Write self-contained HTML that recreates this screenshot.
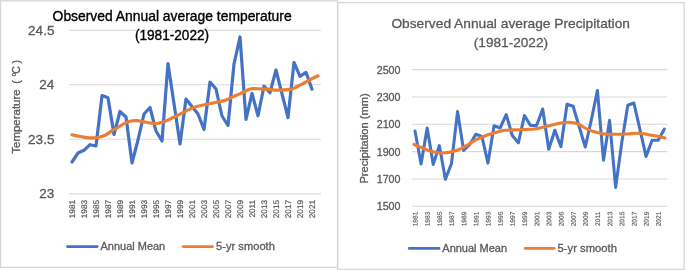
<!DOCTYPE html><html><head><meta charset="utf-8"><style>html,body{margin:0;padding:0;background:#fff;}svg{display:block;will-change:transform;}text{font-family:"Liberation Sans",sans-serif;}.g{stroke:#595959;stroke-width:0.3px;}.k{stroke:#000;stroke-width:0.35px;}.gt{stroke:#595959;stroke-width:0.35px;}</style></head><body>
<svg width="685" height="270" viewBox="0 0 685 270">
<rect width="685" height="270" fill="#fff"/>
<g fill="none" stroke="#d6d6d6" stroke-width="1.3">
<rect x="0.6" y="0.8" width="337" height="266.6"/>
<rect x="337.6" y="2.6" width="346.6" height="266.8"/>
</g>
<line x1="69" y1="30.2" x2="321" y2="30.2" stroke="#d9d9d9" stroke-width="1.1"/>
<line x1="69" y1="84.7" x2="321" y2="84.7" stroke="#d9d9d9" stroke-width="1.1"/>
<line x1="69" y1="139.3" x2="321" y2="139.3" stroke="#d9d9d9" stroke-width="1.1"/>
<line x1="69" y1="193.9" x2="321" y2="193.9" stroke="#d9d9d9" stroke-width="1.1"/>
<text x="54.4" y="34.7" font-size="13.5" fill="#595959" class="g" text-anchor="end">24.5</text>
<text x="54.4" y="89.2" font-size="13.5" fill="#595959" class="g" text-anchor="end">24</text>
<text x="54.4" y="143.8" font-size="13.5" fill="#595959" class="g" text-anchor="end">23.5</text>
<text x="54.4" y="198.4" font-size="13.5" fill="#595959" class="g" text-anchor="end">23</text>
<text transform="translate(75.00,200) rotate(-89.9)" font-size="8.2" fill="#595959" stroke="#595959" stroke-width="0.2" text-anchor="end">1981</text>
<text transform="translate(87.00,200) rotate(-89.9)" font-size="8.2" fill="#595959" stroke="#595959" stroke-width="0.2" text-anchor="end">1983</text>
<text transform="translate(99.00,200) rotate(-89.9)" font-size="8.2" fill="#595959" stroke="#595959" stroke-width="0.2" text-anchor="end">1985</text>
<text transform="translate(111.00,200) rotate(-89.9)" font-size="8.2" fill="#595959" stroke="#595959" stroke-width="0.2" text-anchor="end">1987</text>
<text transform="translate(123.00,200) rotate(-89.9)" font-size="8.2" fill="#595959" stroke="#595959" stroke-width="0.2" text-anchor="end">1989</text>
<text transform="translate(135.00,200) rotate(-89.9)" font-size="8.2" fill="#595959" stroke="#595959" stroke-width="0.2" text-anchor="end">1991</text>
<text transform="translate(147.00,200) rotate(-89.9)" font-size="8.2" fill="#595959" stroke="#595959" stroke-width="0.2" text-anchor="end">1993</text>
<text transform="translate(159.00,200) rotate(-89.9)" font-size="8.2" fill="#595959" stroke="#595959" stroke-width="0.2" text-anchor="end">1995</text>
<text transform="translate(171.00,200) rotate(-89.9)" font-size="8.2" fill="#595959" stroke="#595959" stroke-width="0.2" text-anchor="end">1997</text>
<text transform="translate(183.00,200) rotate(-89.9)" font-size="8.2" fill="#595959" stroke="#595959" stroke-width="0.2" text-anchor="end">1999</text>
<text transform="translate(195.00,200) rotate(-89.9)" font-size="8.2" fill="#595959" stroke="#595959" stroke-width="0.2" text-anchor="end">2001</text>
<text transform="translate(207.00,200) rotate(-89.9)" font-size="8.2" fill="#595959" stroke="#595959" stroke-width="0.2" text-anchor="end">2003</text>
<text transform="translate(219.00,200) rotate(-89.9)" font-size="8.2" fill="#595959" stroke="#595959" stroke-width="0.2" text-anchor="end">2005</text>
<text transform="translate(231.00,200) rotate(-89.9)" font-size="8.2" fill="#595959" stroke="#595959" stroke-width="0.2" text-anchor="end">2007</text>
<text transform="translate(243.00,200) rotate(-89.9)" font-size="8.2" fill="#595959" stroke="#595959" stroke-width="0.2" text-anchor="end">2009</text>
<text transform="translate(255.00,200) rotate(-89.9)" font-size="8.2" fill="#595959" stroke="#595959" stroke-width="0.2" text-anchor="end">2011</text>
<text transform="translate(267.00,200) rotate(-89.9)" font-size="8.2" fill="#595959" stroke="#595959" stroke-width="0.2" text-anchor="end">2013</text>
<text transform="translate(279.00,200) rotate(-89.9)" font-size="8.2" fill="#595959" stroke="#595959" stroke-width="0.2" text-anchor="end">2015</text>
<text transform="translate(291.00,200) rotate(-89.9)" font-size="8.2" fill="#595959" stroke="#595959" stroke-width="0.2" text-anchor="end">2017</text>
<text transform="translate(303.00,200) rotate(-89.9)" font-size="8.2" fill="#595959" stroke="#595959" stroke-width="0.2" text-anchor="end">2019</text>
<text transform="translate(315.00,200) rotate(-89.9)" font-size="8.2" fill="#595959" stroke="#595959" stroke-width="0.2" text-anchor="end">2021</text>
<text transform="translate(19.9,153.7) rotate(-90)" font-size="10.6" fill="#595959" class="g" textLength="64.4" lengthAdjust="spacingAndGlyphs">Temperature</text>
<text transform="translate(19.9,82.0) rotate(-90)" font-size="10.6" fill="#595959" class="g" text-anchor="middle">(</text>
<text transform="translate(19.9,74.6) rotate(-90)" font-size="10.6" fill="#595959" class="g" text-anchor="middle">°</text>
<text transform="translate(19.9,70.0) rotate(-90)" font-size="10.6" fill="#595959" class="g" text-anchor="middle">C</text>
<text transform="translate(19.9,61.7) rotate(-90)" font-size="10.6" fill="#595959" class="g" text-anchor="middle">)</text>
<text x="172.1" y="20.8" font-size="14" fill="#000" class="k" text-anchor="middle" textLength="239" lengthAdjust="spacingAndGlyphs">Observed Annual average temperature</text>
<text x="172" y="39.5" font-size="14" fill="#000" class="k" text-anchor="middle" textLength="74.2" lengthAdjust="spacingAndGlyphs">(1981-2022)</text>
<polyline points="72.00,162.00 78.00,153.00 84.00,150.30 90.00,144.70 96.00,146.00 102.00,95.60 108.00,97.70 114.00,134.50 120.00,111.50 126.00,117.00 132.00,163.00 138.00,140.00 144.00,114.00 150.00,107.50 156.00,131.00 162.00,141.00 168.00,63.70 174.00,103.80 180.00,144.00 186.00,99.00 192.00,106.50 198.00,114.00 204.00,129.50 210.00,82.00 216.00,89.00 222.00,116.00 228.00,125.50 234.00,64.00 240.00,37.00 246.00,119.50 252.00,93.40 258.00,115.80 264.00,86.20 270.00,92.70 276.00,70.00 282.00,93.80 288.00,117.50 294.00,62.50 300.00,76.40 306.00,72.40 312.00,89.30" fill="none" stroke="#4472c4" stroke-width="3.2" stroke-linejoin="round" stroke-linecap="round"/>
<path d="M72.00,134.80 C73.17,135.05 76.83,135.88 79.00,136.30 C81.17,136.72 82.83,137.03 85.00,137.30 C87.17,137.57 89.83,137.87 92.00,137.90 C94.17,137.93 95.83,137.93 98.00,137.50 C100.17,137.07 102.83,136.32 105.00,135.30 C107.17,134.28 108.83,132.70 111.00,131.40 C113.17,130.10 115.83,128.80 118.00,127.50 C120.17,126.20 121.83,124.68 124.00,123.60 C126.17,122.52 128.92,121.48 131.00,121.00 C133.08,120.52 134.50,120.60 136.50,120.70 C138.50,120.80 140.85,121.23 143.00,121.60 C145.15,121.97 147.23,122.58 149.40,122.90 C151.57,123.22 153.83,123.62 156.00,123.50 C158.17,123.38 160.23,122.85 162.40,122.20 C164.57,121.55 166.83,120.57 169.00,119.60 C171.17,118.63 173.23,117.48 175.40,116.40 C177.57,115.32 179.85,114.18 182.00,113.10 C184.15,112.02 186.13,110.92 188.30,109.90 C190.47,108.88 191.72,107.98 195.00,107.00 C198.28,106.02 203.67,104.93 208.00,104.00 C212.33,103.07 217.77,102.17 221.00,101.40 C224.23,100.63 225.23,100.27 227.40,99.40 C229.57,98.53 231.83,97.17 234.00,96.20 C236.17,95.23 238.23,94.57 240.40,93.60 C242.57,92.63 245.23,91.20 247.00,90.40 C248.77,89.60 248.83,89.07 251.00,88.80 C253.17,88.53 257.17,88.73 260.00,88.80 C262.83,88.87 265.60,88.98 268.00,89.20 C270.40,89.42 272.23,89.95 274.40,90.10 C276.57,90.25 278.40,90.22 281.00,90.10 C283.60,89.98 287.83,89.73 290.00,89.40 C292.17,89.07 292.27,88.85 294.00,88.10 C295.73,87.35 298.23,86.02 300.40,84.90 C302.57,83.78 304.85,82.55 307.00,81.40 C309.15,80.25 311.47,78.93 313.30,78.00 C315.13,77.07 317.22,76.17 318.00,75.80" fill="none" stroke="#ed7d31" stroke-width="3.2" stroke-linejoin="round" stroke-linecap="round"/>
<line x1="67.4" y1="246.6" x2="97.2" y2="246.6" stroke="#4472c4" stroke-width="2.6" stroke-linecap="round"/>
<text x="100.5" y="250.3" font-size="11" fill="#595959" class="g" textLength="64.7" lengthAdjust="spacingAndGlyphs">Annual Mean</text>
<line x1="183" y1="246.6" x2="212.6" y2="246.6" stroke="#ed7d31" stroke-width="2.6" stroke-linecap="round"/>
<text x="216" y="250.3" font-size="11" fill="#595959" class="g" textLength="58.9" lengthAdjust="spacingAndGlyphs">5-yr smooth</text>
<line x1="412" y1="69.60" x2="667.3" y2="69.60" stroke="#d9d9d9" stroke-width="1.1"/>
<line x1="412" y1="96.94" x2="667.3" y2="96.94" stroke="#d9d9d9" stroke-width="1.1"/>
<line x1="412" y1="124.28" x2="667.3" y2="124.28" stroke="#d9d9d9" stroke-width="1.1"/>
<line x1="412" y1="151.62" x2="667.3" y2="151.62" stroke="#d9d9d9" stroke-width="1.1"/>
<line x1="412" y1="178.96" x2="667.3" y2="178.96" stroke="#d9d9d9" stroke-width="1.1"/>
<line x1="412" y1="206.30" x2="667.3" y2="206.30" stroke="#d9d9d9" stroke-width="1.1"/>
<text x="400.5" y="73.5" font-size="10.7" fill="#595959" class="g" text-anchor="end">2500</text>
<text x="400.5" y="100.8" font-size="10.7" fill="#595959" class="g" text-anchor="end">2300</text>
<text x="400.5" y="128.2" font-size="10.7" fill="#595959" class="g" text-anchor="end">2100</text>
<text x="400.5" y="155.5" font-size="10.7" fill="#595959" class="g" text-anchor="end">1900</text>
<text x="400.5" y="182.9" font-size="10.7" fill="#595959" class="g" text-anchor="end">1700</text>
<text x="400.5" y="210.2" font-size="10.7" fill="#595959" class="g" text-anchor="end">1500</text>
<text transform="translate(417.60,211.7) rotate(-89.9)" font-size="6.6" fill="#595959" stroke="#595959" stroke-width="0.15" text-anchor="end">1981</text>
<text transform="translate(429.76,211.7) rotate(-89.9)" font-size="6.6" fill="#595959" stroke="#595959" stroke-width="0.15" text-anchor="end">1983</text>
<text transform="translate(441.92,211.7) rotate(-89.9)" font-size="6.6" fill="#595959" stroke="#595959" stroke-width="0.15" text-anchor="end">1985</text>
<text transform="translate(454.08,211.7) rotate(-89.9)" font-size="6.6" fill="#595959" stroke="#595959" stroke-width="0.15" text-anchor="end">1987</text>
<text transform="translate(466.24,211.7) rotate(-89.9)" font-size="6.6" fill="#595959" stroke="#595959" stroke-width="0.15" text-anchor="end">1989</text>
<text transform="translate(478.40,211.7) rotate(-89.9)" font-size="6.6" fill="#595959" stroke="#595959" stroke-width="0.15" text-anchor="end">1991</text>
<text transform="translate(490.56,211.7) rotate(-89.9)" font-size="6.6" fill="#595959" stroke="#595959" stroke-width="0.15" text-anchor="end">1993</text>
<text transform="translate(502.72,211.7) rotate(-89.9)" font-size="6.6" fill="#595959" stroke="#595959" stroke-width="0.15" text-anchor="end">1995</text>
<text transform="translate(514.88,211.7) rotate(-89.9)" font-size="6.6" fill="#595959" stroke="#595959" stroke-width="0.15" text-anchor="end">1997</text>
<text transform="translate(527.04,211.7) rotate(-89.9)" font-size="6.6" fill="#595959" stroke="#595959" stroke-width="0.15" text-anchor="end">1999</text>
<text transform="translate(539.20,211.7) rotate(-89.9)" font-size="6.6" fill="#595959" stroke="#595959" stroke-width="0.15" text-anchor="end">2001</text>
<text transform="translate(551.36,211.7) rotate(-89.9)" font-size="6.6" fill="#595959" stroke="#595959" stroke-width="0.15" text-anchor="end">2003</text>
<text transform="translate(563.52,211.7) rotate(-89.9)" font-size="6.6" fill="#595959" stroke="#595959" stroke-width="0.15" text-anchor="end">2005</text>
<text transform="translate(575.68,211.7) rotate(-89.9)" font-size="6.6" fill="#595959" stroke="#595959" stroke-width="0.15" text-anchor="end">2007</text>
<text transform="translate(587.84,211.7) rotate(-89.9)" font-size="6.6" fill="#595959" stroke="#595959" stroke-width="0.15" text-anchor="end">2009</text>
<text transform="translate(600.00,211.7) rotate(-89.9)" font-size="6.6" fill="#595959" stroke="#595959" stroke-width="0.15" text-anchor="end">2011</text>
<text transform="translate(612.16,211.7) rotate(-89.9)" font-size="6.6" fill="#595959" stroke="#595959" stroke-width="0.15" text-anchor="end">2013</text>
<text transform="translate(624.32,211.7) rotate(-89.9)" font-size="6.6" fill="#595959" stroke="#595959" stroke-width="0.15" text-anchor="end">2015</text>
<text transform="translate(636.48,211.7) rotate(-89.9)" font-size="6.6" fill="#595959" stroke="#595959" stroke-width="0.15" text-anchor="end">2017</text>
<text transform="translate(648.64,211.7) rotate(-89.9)" font-size="6.6" fill="#595959" stroke="#595959" stroke-width="0.15" text-anchor="end">2019</text>
<text transform="translate(660.80,211.7) rotate(-89.9)" font-size="6.6" fill="#595959" stroke="#595959" stroke-width="0.15" text-anchor="end">2021</text>
<text transform="translate(367.7,183.6) rotate(-90)" font-size="10.8" fill="#595959" class="g" textLength="90.3" lengthAdjust="spacingAndGlyphs">Precipitation (mm)</text>
<text x="510.7" y="27.8" font-size="13.6" fill="#595959" class="g" text-anchor="middle" textLength="238.6" lengthAdjust="spacingAndGlyphs">Observed Annual average Precipitation</text>
<text x="510.9" y="46.7" font-size="13.6" fill="#595959" class="g" text-anchor="middle" textLength="74.3" lengthAdjust="spacingAndGlyphs">(1981-2022)</text>
<polyline points="415.00,131.00 421.08,164.00 427.16,128.00 433.24,164.40 439.32,145.60 445.40,179.20 451.48,163.50 457.56,111.50 463.64,150.40 469.72,144.50 475.80,134.20 481.88,136.40 487.96,163.10 494.04,125.80 500.12,128.00 506.20,114.60 512.28,135.50 518.36,142.90 524.44,115.50 530.52,125.50 536.60,125.50 542.68,109.00 548.76,149.20 554.84,130.30 560.92,146.70 567.00,104.20 573.08,106.30 579.16,126.50 585.24,147.00 591.32,120.00 597.40,90.50 603.48,160.20 609.56,120.30 615.64,187.40 621.72,143.00 627.80,105.20 633.88,103.00 639.96,129.70 646.04,156.40 652.12,140.30 658.20,140.30 664.28,129.20" fill="none" stroke="#4472c4" stroke-width="3.05" stroke-linejoin="round" stroke-linecap="round"/>
<path d="M414.00,144.40 C415.00,144.83 417.78,146.07 420.00,147.00 C422.22,147.93 425.13,149.20 427.30,150.00 C429.47,150.80 431.00,151.32 433.00,151.80 C435.00,152.28 437.13,152.75 439.30,152.90 C441.47,153.05 443.88,152.90 446.00,152.70 C448.12,152.50 449.92,152.18 452.00,151.70 C454.08,151.22 456.67,150.48 458.50,149.80 C460.33,149.12 461.20,148.62 463.00,147.60 C464.80,146.58 466.72,145.18 469.30,143.70 C471.88,142.22 475.42,140.18 478.50,138.70 C481.58,137.22 485.22,135.75 487.80,134.80 C490.38,133.85 491.97,133.58 494.00,133.00 C496.03,132.42 498.17,131.75 500.00,131.30 C501.83,130.85 501.73,130.57 505.00,130.30 C508.27,130.03 514.73,129.90 519.60,129.70 C524.47,129.50 530.30,129.52 534.20,129.10 C538.10,128.68 540.57,127.75 543.00,127.20 C545.43,126.65 546.62,126.35 548.80,125.80 C550.98,125.25 553.90,124.42 556.10,123.90 C558.30,123.38 560.02,122.98 562.00,122.70 C563.98,122.42 566.00,122.18 568.00,122.20 C570.00,122.22 572.00,122.33 574.00,122.80 C576.00,123.27 578.00,124.05 580.00,125.00 C582.00,125.95 583.90,127.47 586.00,128.50 C588.10,129.53 590.28,130.43 592.60,131.20 C594.92,131.97 597.83,132.62 599.90,133.10 C601.97,133.58 601.90,133.90 605.00,134.10 C608.10,134.30 614.70,134.33 618.50,134.30 C622.30,134.27 624.22,134.07 627.80,133.90 C631.38,133.73 636.30,133.12 640.00,133.30 C643.70,133.48 646.67,134.43 650.00,135.00 C653.33,135.57 657.50,136.20 660.00,136.70 C662.50,137.20 664.17,137.78 665.00,138.00" fill="none" stroke="#ed7d31" stroke-width="3.05" stroke-linejoin="round" stroke-linecap="round"/>
<line x1="409.2" y1="248.4" x2="439" y2="248.4" stroke="#4472c4" stroke-width="2.6" stroke-linecap="round"/>
<text x="442.3" y="252.1" font-size="11" fill="#595959" class="g" textLength="64.8" lengthAdjust="spacingAndGlyphs">Annual Mean</text>
<line x1="525.1" y1="248.4" x2="554.2" y2="248.4" stroke="#ed7d31" stroke-width="2.6" stroke-linecap="round"/>
<text x="557.6" y="252.1" font-size="11" fill="#595959" class="g" textLength="59.4" lengthAdjust="spacingAndGlyphs">5-yr smooth</text>
</svg></body></html>
